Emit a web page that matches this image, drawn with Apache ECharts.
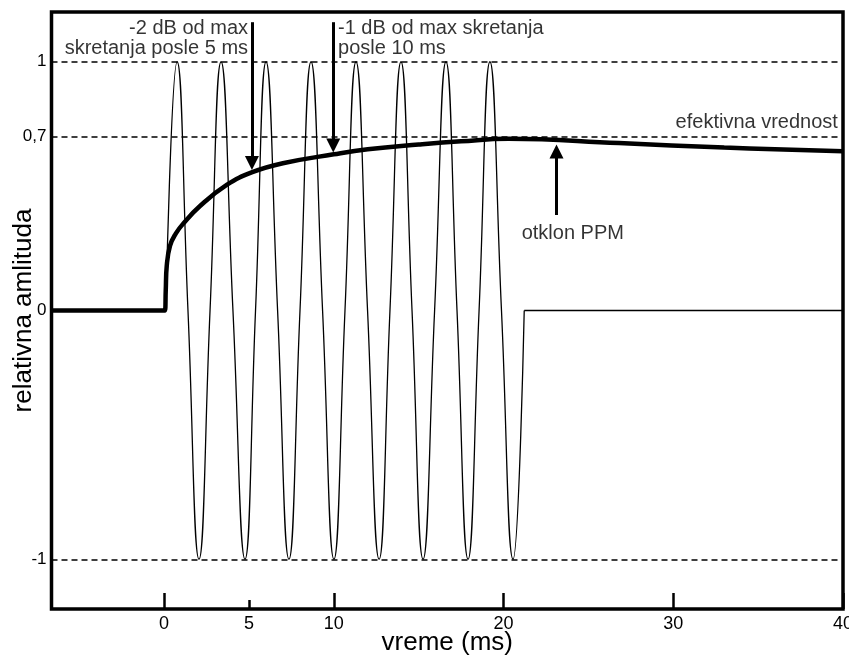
<!DOCTYPE html>
<html>
<head>
<meta charset="utf-8">
<script src="https://cdn.jsdelivr.net/npm/echarts@6/dist/echarts.min.js"></script>
<style>
html, body { margin: 0; padding: 0; background: #fff; }
#chart { width: 849px; height: 657px; }
</style>
</head>
<body>
<div id="chart"></div>
<script>
// osa x (ms) i osa y (relativna amplituda)
var X_MIN = -6.63, X_MAX = 40;
var Y_MIN = -1.2, Y_MAX = 1.2;
var xTickValues = [0, 10, 20, 30, 40];
var xShortTick = [5];
var xLabelValues = [0, 5, 10, 20, 30, 40];
var yLabelValues = [-1, 0, 0.7, 1];
var refLevels = [1, 0.7, -1];
var refLineEnd = 39.7;

// signal: nule, vrhovi i dolovi ocitani sa slike
var burstPoints = [
    [0.10, 0], [0.77, 1], [1.41, 0], [2.06, -1],
    [2.71, 0], [3.36, 1], [4.06, 0], [4.77, -1],
    [5.39, 0], [6.01, 1], [6.69, 0], [7.36, -1],
    [8.01, 0], [8.66, 1], [9.34, 0], [10.01, -1],
    [10.66, 0], [11.31, 1], [11.99, 0], [12.67, -1],
    [13.31, 0], [13.96, 1], [14.61, 0], [15.26, -1],
    [15.94, 0], [16.61, 1], [17.26, 0], [17.91, -1],
    [18.56, 0], [19.20, 1], [19.88, 0], [20.56, -1],
    [21.22, 0]
];
var tailPoints = [[21.22, 0], [40, 0]];

// otklon PPM (efektivna vrednost)
var envelopePoints = [
    [-6.63, 0], [0.05, 0], [0.10, 0.08], [0.16, 0.18], [0.35, 0.26],
    [0.70, 0.31], [1.14, 0.35], [2.12, 0.42], [3.69, 0.505], [5.20, 0.556],
    [7.00, 0.592], [10.0, 0.628], [12.0, 0.648], [15.0, 0.667], [17.5, 0.68],
    [20.3, 0.69], [26.8, 0.673], [33.0, 0.655], [40.0, 0.64]
];

// strelice: [x, y od, y do] (do = sredina vrha strelice)
var arrows = [
    [5.18, 1.159, 0.593],
    [9.97, 1.159, 0.663],
    [23.12, 0.384, 0.639]
];

// natpisi
var noteTexts = [
    '-2 dB od max\nskretanja posle 5 ms',
    '-1 dB od max skretanja\nposle 10 ms',
    'efektivna vrednost',
    'otklon PPM'
];
var notePos = [[4.95, 1.094], [10.25, 1.094], [39.7, 0.715], [21.07, 0.311]];
var noteAlign = [['right', 'middle'], ['left', 'middle'], ['right', 'bottom'], ['left', 'middle']];

var FONT = "'Liberation Sans', Arial, sans-serif";

var chart = echarts.init(document.getElementById('chart'));

var refLineData = refLevels.map(function (lv) {
    return [{ coord: [X_MIN, lv] }, { coord: [refLineEnd, lv] }];
});
var arrowData = arrows.map(function (a) {
    return [{ coord: [a[0], a[1]] }, { coord: [a[0], a[2]] }];
});
var noteData = noteTexts.map(function (txt, i) {
    return {
        value: notePos[i],
        name: txt,
        label: {
            show: true,
            position: [0, 0],
            align: noteAlign[i][0],
            verticalAlign: noteAlign[i][1],
            formatter: '{b}'
        }
    };
});

var option = {
    animation: false,
    backgroundColor: '#fff',
    textStyle: { fontFamily: FONT },
    grid: {
        left: 51.5,
        right: 6,
        top: 12,
        bottom: 48,
        outerBoundsMode: 'none',
        containLabel: false,
        show: true,
        borderColor: '#000',
        borderWidth: 3.5,
        backgroundColor: 'transparent'
    },
    xAxis: [{
        type: 'value',
        min: X_MIN,
        max: X_MAX,
        name: 'vreme (ms)',
        nameLocation: 'middle',
        nameGap: 21,
        nameMoveOverlap: false,
        nameTextStyle: { fontSize: 26, color: '#000', fontFamily: FONT },
        axisLine: { show: false, onZero: false },
        splitLine: { show: false },
        axisTick: {
            show: true,
            inside: true,
            length: 16,
            customValues: xTickValues,
            lineStyle: { color: '#000', width: 2.5 }
        },
        axisLabel: {
            show: true,
            margin: 6,
            fontSize: 18,
            color: '#000',
            fontFamily: FONT,
            customValues: xLabelValues
        }
    }, {
        type: 'value',
        min: X_MIN,
        max: X_MAX,
        position: 'bottom',
        axisLine: { show: false, onZero: false },
        splitLine: { show: false },
        axisLabel: { show: false },
        axisTick: {
            show: true,
            inside: true,
            length: 9,
            customValues: xShortTick,
            lineStyle: { color: '#000', width: 2.5 }
        }
    }],
    yAxis: {
        type: 'value',
        min: Y_MIN,
        max: Y_MAX,
        name: 'relativna amlituda',
        nameLocation: 'middle',
        nameGap: 15,
        nameMoveOverlap: false,
        nameTextStyle: { fontSize: 26, color: '#000', fontFamily: FONT },
        axisLine: { show: false, onZero: false },
        axisTick: { show: false },
        splitLine: { show: false },
        axisLabel: {
            margin: 5,
            fontSize: 17,
            color: '#000',
            fontFamily: FONT,
            customValues: yLabelValues,
            formatter: function (v) {
                return String(v).replace('.', ',');
            }
        }
    },
    series: [{
        // isprekidane linije 1, 0,7 i -1
        type: 'line',
        data: [],
        silent: true,
        markLine: {
            silent: true,
            symbol: ['none', 'none'],
            label: { show: false },
            lineStyle: { color: '#000', width: 1.5, type: [6, 4] },
            emphasis: { disabled: true },
            data: refLineData
        }
    }, {
        name: 'signal',
        type: 'line',
        data: burstPoints,
        smooth: 0.5,
        symbol: 'none',
        silent: true,
        lineStyle: { color: '#000', width: 1.3 }
    }, {
        name: 'signal posle',
        type: 'line',
        data: tailPoints,
        symbol: 'none',
        silent: true,
        lineStyle: { color: '#000', width: 1.3 }
    }, {
        name: 'otklon PPM',
        type: 'line',
        data: envelopePoints,
        smooth: 0.45,
        symbol: 'none',
        silent: true,
        z: 5,
        lineStyle: { color: '#000', width: 4.5 }
    }, {
        // natpisi i strelice
        type: 'scatter',
        data: noteData,
        symbolSize: 0,
        silent: true,
        z: 6,
        label: {
            fontSize: 20,
            lineHeight: 20,
            color: '#000',
            fontFamily: FONT
        },
        markLine: {
            silent: true,
            symbol: ['none', 'triangle'],
            symbolSize: 14,
            label: { show: false },
            lineStyle: { color: '#000', width: 3, type: 'solid' },
            itemStyle: { color: '#000' },
            emphasis: { disabled: true },
            data: arrowData
        }
    }]
};

chart.setOption(option);
</script>
</body>
</html>
